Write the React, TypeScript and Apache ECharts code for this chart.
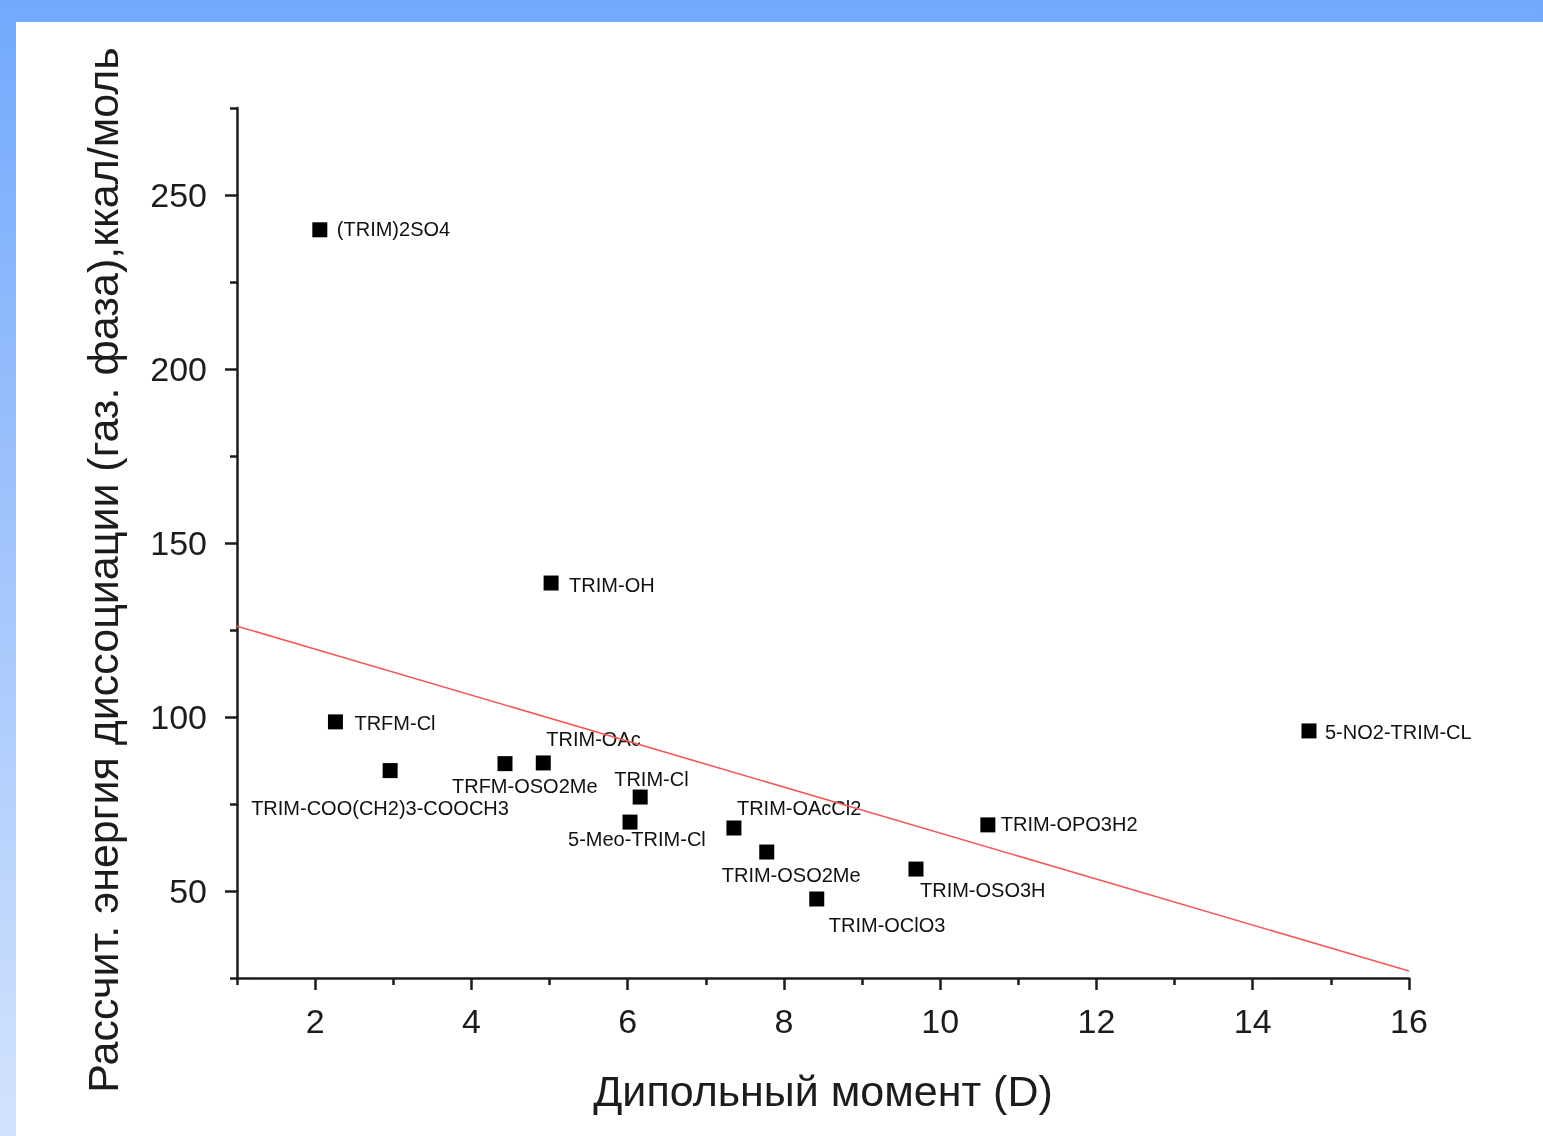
import React, { useEffect, useRef } from "react";
import * as echarts from "echarts";

const compoundNames = [
  "(TRIM)2SO4",
  "TRIM-OH",
  "TRFM-Cl",
  "TRIM-COO(CH2)3-COOCH3",
  "TRFM-OSO2Me",
  "TRIM-OAc",
  "TRIM-Cl",
  "5-Meo-TRIM-Cl",
  "TRIM-OAcCl2",
  "TRIM-OSO2Me",
  "TRIM-OClO3",
  "TRIM-OSO3H",
  "TRIM-OPO3H2",
  "5-NO2-TRIM-CL",
];
const dipoleMoment = [2.06, 5.02, 2.26, 2.96, 4.43, 4.92, 6.16, 6.03, 7.36, 7.78, 8.42, 9.69, 10.61, 14.72];
const dissociationEnergy = [240, 138.5, 98.6, 84.6, 86.6, 86.8, 77.0, 69.8, 68.1, 61.2, 47.7, 56.3, 69.0, 96.0];

const fitX = [1, 16];
const fitY = [126.1, 27.0];

const xMajorTicks = [2, 4, 6, 8, 10, 12, 14, 16];
const xMinorTicks = [1, 3, 5, 7, 9, 11, 13, 15];
const yMajorTicks = [50, 100, 150, 200, 250];
const yMinorTicks = [25, 75, 125, 175, 225, 275];

// label placement (style): offset of label's left-middle from symbol centre
const labelOffsets: [number, number][] = [
  [17, -1],
  [18, 2],
  [19, 1],
  [-139, 37],
  [-53, 22],
  [3, -24],
  [-26, -18],
  [-62, 17],
  [3, -20],
  [-45, 23],
  [12, 26],
  [4, 21],
  [13, -1],
  [16, 1],
];

const FONT = "'Liberation Sans', Arial, sans-serif";
const AXIS_COLOR = "#1c1c1c";

export default function App() {
  const ref = useRef<HTMLDivElement>(null);
  useEffect(() => {
    if (!ref.current) return;
    const chart = echarts.init(ref.current, null, { renderer: "svg" });
    const option: any = {
      animation: false,
      backgroundColor: "transparent",
      grid: { left: 237, top: 108, right: 134, bottom: 158, containLabel: false },
      graphic: [
        {
          type: "rect",
          z: -10,
          silent: true,
          shape: { x: 0, y: 0, width: 1543, height: 1136 },
          style: {
            fill: new echarts.graphic.LinearGradient(0, 0, 0, 1, [
              { offset: 0, color: "#73a9fc" },
              { offset: 1, color: "#d3e3fd" },
            ]),
          },
        },
        {
          type: "rect",
          z: -9,
          silent: true,
          shape: { x: 16, y: 22, width: 1527, height: 1114 },
          style: { fill: "#ffffff" },
        },
        {
          type: "text",
          z: 5,
          x: 103,
          y: 570,
          rotation: Math.PI / 2,
          style: {
            text: "Рассчит. энергия диссоциации (газ. фаза),ккал/моль",
            fontSize: 43,
            fontFamily: FONT,
            fill: "#1c1c1c",
            align: "center",
            verticalAlign: "middle",
          },
        },
      ],
      xAxis: [
        {
          type: "value",
          min: 1,
          max: 16,
          position: "bottom",
          splitLine: { show: false },
          name: "Дипольный момент (D)",
          nameLocation: "middle",
          nameGap: 91,
          nameTextStyle: { fontSize: 43, fontFamily: FONT, color: "#1c1c1c" },
          axisLine: { show: true, onZero: false, lineStyle: { color: AXIS_COLOR, width: 2.5 } },
          axisTick: { show: true, length: 12, customValues: xMajorTicks, lineStyle: { color: AXIS_COLOR, width: 2.5 } },
          axisLabel: { show: true, customValues: xMajorTicks, fontSize: 34, fontFamily: FONT, color: "#1c1c1c", margin: 26 },
        },
        {
          type: "value",
          min: 1,
          max: 16,
          position: "bottom",
          splitLine: { show: false },
          axisLine: { show: false },
          axisTick: { show: true, length: 7, customValues: xMinorTicks, lineStyle: { color: AXIS_COLOR, width: 2.5 } },
          axisLabel: { show: false },
        },
      ],
      yAxis: [
        {
          type: "value",
          min: 25,
          max: 275,
          position: "left",
          splitLine: { show: false },
          axisLine: { show: true, onZero: false, lineStyle: { color: AXIS_COLOR, width: 2.5 } },
          axisTick: { show: true, length: 12, customValues: yMajorTicks, lineStyle: { color: AXIS_COLOR, width: 2.5 } },
          axisLabel: { show: true, customValues: yMajorTicks, fontSize: 34, fontFamily: FONT, color: "#1c1c1c", margin: 30 },
        },
        {
          type: "value",
          min: 25,
          max: 275,
          position: "left",
          splitLine: { show: false },
          axisLine: { show: false },
          axisTick: { show: true, length: 7, customValues: yMinorTicks, lineStyle: { color: AXIS_COLOR, width: 2.5 } },
          axisLabel: { show: false },
        },
      ],
      series: [
        {
          type: "line",
          xAxisIndex: 0,
          yAxisIndex: 0,
          data: fitX.map((x, i) => [x, fitY[i]]),
          showSymbol: false,
          symbol: "none",
          lineStyle: { color: "#f25a5a", width: 1.6 },
          z: 3,
        },
        {
          type: "scatter",
          xAxisIndex: 0,
          yAxisIndex: 0,
          symbol: "rect",
          symbolSize: 15,
          itemStyle: { color: "#000000", opacity: 1 },
          z: 2,
          label: {
            show: true,
            position: "inside",
            align: "left",
            verticalAlign: "middle",
            fontSize: 20,
            fontFamily: FONT,
            color: "#111111",
            opacity: 1,
            formatter: (p: any) => p.name,
          },
          data: compoundNames.map((name, i) => ({
            name,
            value: [dipoleMoment[i], dissociationEnergy[i]],
            label: { offset: labelOffsets[i] },
          })),
        },
      ],
    };
    chart.setOption(option);
    return () => chart.dispose();
  }, []);
  return (
    <div
      ref={ref}
      style={{ position: "fixed", left: 0, top: 0, width: 1543, height: 1136 }}
    />
  );
}
